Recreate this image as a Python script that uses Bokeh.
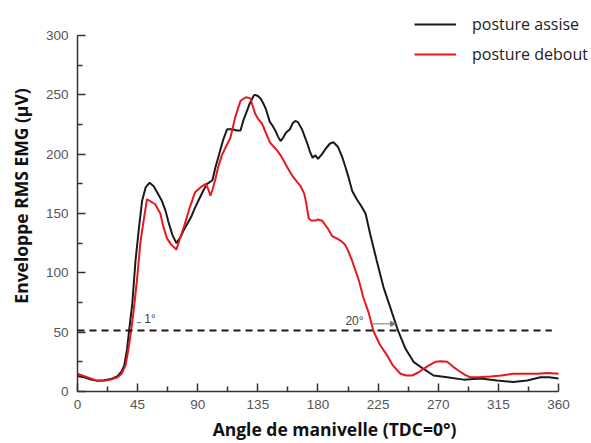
from bokeh.plotting import figure
from bokeh.models import (Range1d, FixedTicker, Legend, LegendItem, Label, Arrow, NormalHead)
from bokeh.embed import file_html
from bokeh.resources import INLINE

# ---- data ----
assise_angle = [0, 5, 10, 15, 20, 25, 30, 33, 35, 37, 38.5, 41, 43.4, 46, 48.4, 51, 54, 57, 60, 63,
                66, 68, 71, 74, 77, 80, 85, 88, 91, 94, 97, 101, 103, 106, 109, 112, 116, 119, 122,
                124, 126, 129, 132, 133, 135, 137, 139, 141, 144, 146, 148, 150, 152, 154, 156, 159,
                161, 163, 165, 168, 170, 172, 174, 176, 178, 180, 183, 186, 189, 191.6, 195, 198,
                200.6, 203, 205.6, 209, 212, 215.6, 219, 224, 229, 235.5, 240, 245.5, 251.5, 259,
                266.5, 276.7, 289, 301.6, 314, 326, 336.6, 346.5, 353, 360]
assise_emg = [13, 12, 10, 9, 9.5, 10.5, 13, 17, 22, 35, 50, 74, 110, 138, 161, 172, 176, 173, 167, 161,
              152, 143, 132, 125, 130, 137, 147, 155, 162, 169, 175, 178, 188, 200, 212, 221, 221, 220,
              220, 228, 234, 243, 249.5, 250, 249, 247, 243, 238, 227, 224, 220, 215, 211, 214, 218,
              221, 226, 228, 227, 221, 215, 209, 202, 197, 199, 196, 200, 205, 209, 210, 206, 198,
              189, 180, 169, 162, 157, 150, 133, 110, 88, 66, 51, 36, 25, 19,
              13.5, 12, 10, 11, 9.3, 8, 9.3, 12, 12, 11]

debout_angle = [0, 5, 10, 15, 20, 25, 30, 33, 36, 38, 40, 42, 44.7, 47, 49.5, 52, 55, 58, 62, 64, 67,
                70, 74, 77, 80, 84, 88, 92, 96, 98, 99.5, 101, 103, 105, 108, 111, 114.5, 118, 122,
                126, 129.5, 131, 133, 135, 138, 141, 144, 147, 149.5, 152, 154, 157, 160.7, 164,
                167, 169.6, 171, 173, 175, 178, 180, 183, 187, 190.6, 194, 197, 200, 202, 205.6,
                208, 210.6, 214, 218, 221.5, 226, 232, 236, 241.7, 246, 250.5, 255, 259, 263, 268,
                272, 276.7, 281, 285, 290, 294, 300, 309, 317, 326, 335, 344, 352, 360]
debout_emg = [15, 13, 11, 9, 9, 10, 12, 15, 22, 35, 50, 68, 96, 125, 144, 162, 160, 158, 150, 140, 129,
              124, 119.6, 130, 140, 155, 168, 172, 175, 170, 165, 170, 178, 188, 199, 206, 214, 231, 245,
              248, 247, 241, 234, 230, 226, 218, 210, 206, 203, 199, 195, 189, 182, 177,
              173, 167, 160, 146, 144, 144, 145, 144, 138, 131, 129, 127, 124, 120, 110,
              102, 93.5, 79, 66, 51, 40, 30, 22, 15, 13.5, 13.5, 16, 19, 22, 25,
              25.5, 25, 21, 17.7, 14, 12, 12, 12.6, 13.5, 15, 15, 15, 15.5, 15]

x_ticks = [0, 45, 90, 135, 180, 225, 270, 315, 360]
x_minor = [22.5, 67.5, 112.5, 157.5, 202.5, 247.5, 292.5, 337.5]
y_ticks = [0, 50, 100, 150, 200, 250, 300]
y_minor = [25, 75, 125, 175, 225, 275]

threshold = 51.5
threshold_end = 355
onset_shift_text = "1°"
offset_shift_text = "20°"
onset_label_pos = (50, 61)
offset_label_pos = (200.5, 59.5)
onset_mark = (44.5, 47.5, 58)
offset_arrow = (220.5, 238, 57)

series_names = ["posture assise", "posture debout"]

# axis extents (axes drawn only over 0-360 / 0-300; view extended so the legend fits in the frame)
x_axis_bounds = (0, 360)
y_axis_bounds = (0, 300)
x_view = (0, 384.7)
y_view = (0, 329.5)

# ---- figure ----
p = figure(width=591, height=443, output_backend="svg", toolbar_location=None,
           x_range=Range1d(*x_view), y_range=Range1d(*y_view),
           min_border_left=77, min_border_right=0, min_border_top=0, min_border_bottom=52)
p.outline_line_color = None
p.grid.visible = False
p.background_fill_color = "white"

black = "#1a1a1a"
red = "#e8191e"

r1 = p.line(assise_angle, assise_emg, line_color=black, line_width=2)
r2 = p.line(debout_angle, debout_emg, line_color=red, line_width=2)

p.segment(x0=[0], y0=[threshold], x1=[threshold_end], y1=[threshold],
          line_color=black, line_width=2, line_dash="7 5")

# annotations
p.add_layout(Label(x=onset_label_pos[0], y=onset_label_pos[1], text=onset_shift_text,
                   text_font="Liberation Sans", text_font_size="12px", text_color="#444",
                   text_baseline="alphabetic"))
p.add_layout(Label(x=offset_label_pos[0], y=offset_label_pos[1], text=offset_shift_text,
                   text_font="Liberation Sans", text_font_size="12px", text_color="#444",
                   text_baseline="alphabetic"))
p.segment(x0=[onset_mark[0]], y0=[onset_mark[2]], x1=[onset_mark[1]], y1=[onset_mark[2]],
          line_color="#666", line_width=1)
p.add_layout(Arrow(end=NormalHead(size=5, fill_color="#777", line_color="#777"),
                   x_start=offset_arrow[0], y_start=offset_arrow[2],
                   x_end=offset_arrow[1], y_end=offset_arrow[2],
                   line_color="#777", line_width=1))

# axes
for ax in (p.xaxis[0], p.yaxis[0]):
    ax.axis_line_color = "#333"
    ax.axis_line_width = 1.5
    ax.major_tick_line_color = "#333"
    ax.minor_tick_line_color = "#333"
    ax.major_tick_line_width = 1.5
    ax.minor_tick_line_width = 1.5
    ax.major_tick_in = 8
    ax.major_tick_out = 0
    ax.minor_tick_in = 5
    ax.minor_tick_out = 0
    ax.major_label_text_font = "Liberation Sans"
    ax.major_label_text_font_size = "13.5px"
    ax.major_label_text_color = "#555"
    ax.axis_label_text_font = "Open Sans"
    ax.axis_label_text_font_style = "bold"
    ax.axis_label_text_font_size = "17.5px"
    ax.axis_label_text_color = "#111"

p.xaxis.bounds = x_axis_bounds
p.yaxis.bounds = y_axis_bounds
p.xaxis.ticker = FixedTicker(ticks=x_ticks, minor_ticks=x_minor)
p.yaxis.ticker = FixedTicker(ticks=y_ticks, minor_ticks=y_minor)
p.xaxis.major_label_standoff = 8
p.yaxis.major_label_standoff = 9

p.xaxis.axis_label = "Angle de manivelle (TDC=0°)"
p.xaxis.axis_label_standoff = 5
p.yaxis.axis_label = "Enveloppe RMS EMG (µV)"
p.yaxis.axis_label_standoff = 10

legend = Legend(items=[LegendItem(label=series_names[0], renderers=[r1]),
                       LegendItem(label=series_names[1], renderers=[r2])],
                location=(337, 326), orientation="vertical",
                border_line_color=None, background_fill_alpha=0,
                padding=0, margin=0, spacing=8,
                glyph_width=42, glyph_height=20, label_height=20, label_standoff=16,
                label_text_font="Open Sans", label_text_font_size="16px",
                label_text_color="#222")
p.add_layout(legend)

open("out.html", "w").write(file_html(p, INLINE))
